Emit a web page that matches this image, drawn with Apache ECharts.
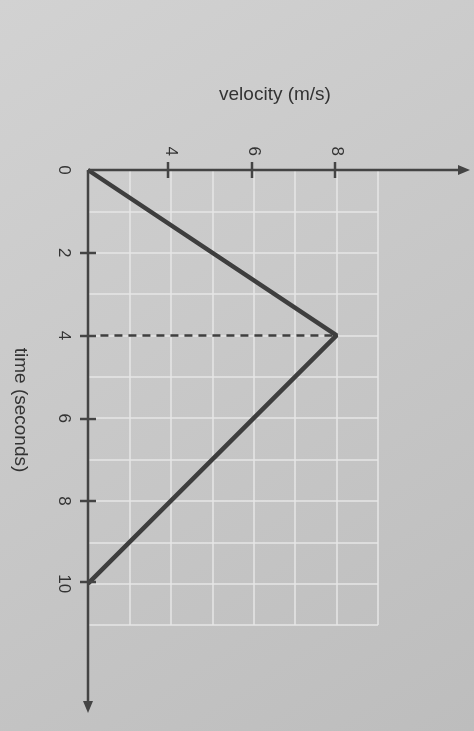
<!DOCTYPE html><html><head><meta charset="utf-8">
<script src="https://cdn.jsdelivr.net/npm/echarts@6/dist/echarts.min.js"></script>
<style>html,body{margin:0;padding:0;background:#c9c9c9}#c{width:474px;height:731px}</style></head><body><div id="c"></div>
<script>
const timeS=[0,4,10];
const velocity=[2,8,2];
const dashTime=[4,4];
const dashVel=[2.3,8];
const timeTicks=[2,4,6,8,10];
const velTicks=[4,6,8];
const ch=echarts.init(document.getElementById('c'));
const F='Liberation Sans';
const G=g=>Object.assign({z:100},g);
ch.setOption({
backgroundColor:{type:'linear',x:0,y:0,x2:1,y2:1,colorStops:[{offset:0,color:'#d2d2d2'},{offset:1,color:'#bdbdbd'}]},
animation:false,
grid:{left:88,top:170,width:290,height:455},
xAxis:{type:'value',min:2,max:9,interval:1,position:'top',
 axisLine:{show:false},axisTick:{show:false},
 splitLine:{lineStyle:{color:'#e6e6e6',width:1.5}},
 axisLabel:{rotate:-90,fontFamily:F,fontSize:17,color:'#333',margin:14,
  formatter:v=>velTicks.includes(v)?String(v):''}},
yAxis:{type:'value',min:0,max:11,interval:1,inverse:true,
 axisLine:{show:false},axisTick:{show:false},
 splitLine:{lineStyle:{color:'#e6e6e6',width:1.5}},
 axisLabel:{rotate:-90,fontFamily:F,fontSize:17,color:'#333',margin:16,
  formatter:v=>(v===0||timeTicks.includes(v))?String(v):''}},
series:[
 {type:'line',data:timeS.map((t,i)=>[velocity[i],t]),symbol:'none',lineStyle:{color:'#3e3e3e',width:4.5}},
 {type:'line',data:dashTime.map((t,i)=>[dashVel[i],t]),symbol:'none',lineStyle:{color:'#3e3e3e',width:2.5,type:[8,6]}}
],
graphic:[
 G({type:'line',shape:{x1:88,y1:170,x2:462,y2:170},style:{stroke:'#444',lineWidth:2.5}}),
 G({type:'polygon',shape:{points:[[470,170],[458,165],[458,175]]},style:{fill:'#444'}}),
 G({type:'line',shape:{x1:88,y1:170,x2:88,y2:705},style:{stroke:'#444',lineWidth:2.5}}),
 G({type:'polygon',shape:{points:[[88,713],[83,701],[93,701]]},style:{fill:'#444'}}),
 ...[253,336,419,501,582].map(y=>G({type:'line',shape:{x1:80,y1:y,x2:96,y2:y},style:{stroke:'#444',lineWidth:2.5}})),
 ...[168,252,335].map(x=>G({type:'line',shape:{x1:x,y1:162,x2:x,y2:178},style:{stroke:'#444',lineWidth:2.5}})),
 G({type:'text',x:275,y:95,style:{text:'velocity (m/s)',font:'19px "Liberation Sans"',fill:'#333',align:'center',verticalAlign:'middle'}}),
 G({type:'text',x:20,y:410,rotation:-Math.PI/2,style:{text:'time (seconds)',font:'19px "Liberation Sans"',fill:'#333',align:'center',verticalAlign:'middle'}})
]
});
</script></body></html>
